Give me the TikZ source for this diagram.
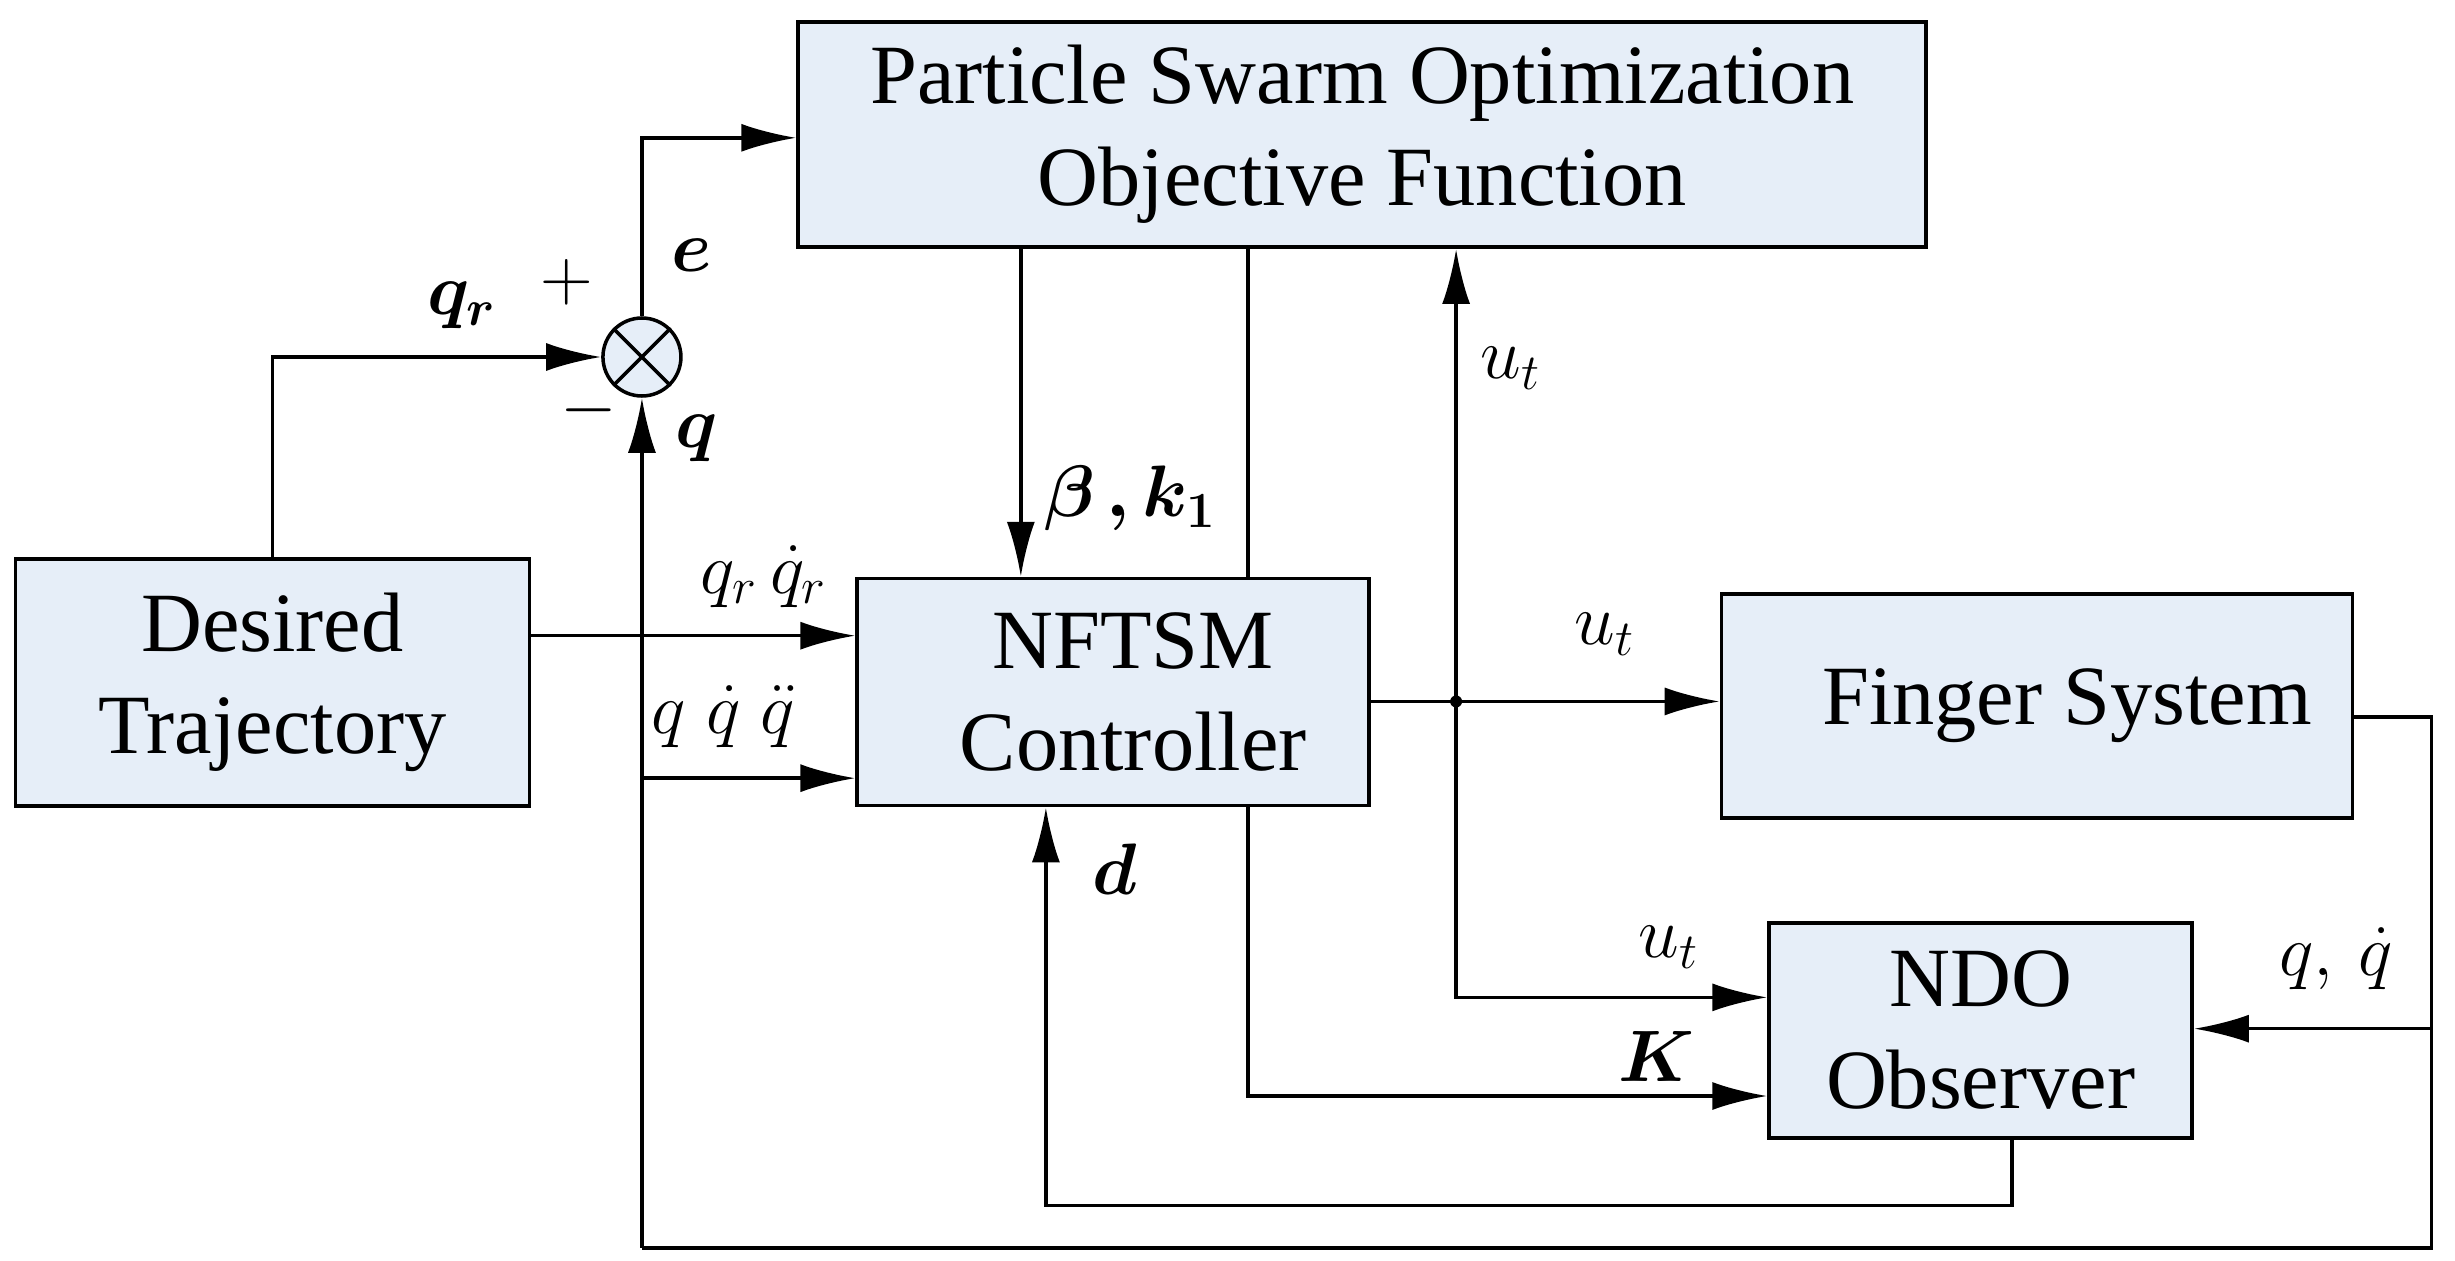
\documentclass[tikz,border=0pt]{standalone}
\usepackage{amsmath,bm}
\usepackage{fontspec}
\setmainfont{Liberation Serif}
\definecolor{box_c}{rgb}{0.902, 0.933, 0.973}
\usetikzlibrary{arrows.meta, calc, positioning}
\begin{document}
\begin{tikzpicture}[
			x=0.01566cm, y=-0.01566cm,
			line width=1pt,
			blk/.style = {draw, fill=box_c, align=center, font=\fontsize{24}{29}\selectfont},
			lbl/.style = {font=\fontsize{21}{24}\selectfont},
			sig/.style = {-{Latex[length=0.55cm,width=0.28cm]}},
			]
			\useasboundingbox (0,0) rectangle (1568,805);
			% blocks
			\node[blk, minimum width=11.28cm, minimum height=2.25cm] (pso) at (870,86) {Particle Swarm Optimization\\Objective Function};
			\node[blk, minimum width=5.14cm, minimum height=2.47cm] (des) at (174,436) {Desired\\Trajectory};
			\node[blk, minimum width=5.12cm, minimum height=2.27cm] (ctl) at (711,442) {\hspace{0.4cm}NFTSM\\\hspace{0.4cm}Controller};
			\node[blk, minimum width=6.31cm, minimum height=2.24cm] (fin) at (1301,451) {\hspace{0.6cm}Finger System};
			\node[blk, minimum width=4.23cm, minimum height=2.15cm] (ndo) at (1265,658) {NDO\\Observer};
			% summing junction
			\node[draw, circle, fill=box_c, minimum size=0.78cm] (sum) at (410,228) {};
			\draw (sum.north west) -- (sum.south east) (sum.north east) -- (sum.south west);
			% helper points
			\coordinate (jn) at (930,448);
			\coordinate (fb) at (410,797);
			\coordinate (rt) at (1553,797);
			\coordinate (tap) at (1553,657);
			\fill (jn) circle (0.06cm);
			% edges
			\draw[sig] (des.north) |- (sum.west);
			\draw[sig] (sum.north) |- (pso.west |- 0,88);
			\draw[sig] (fb) -- (sum.south);
			\draw[sig] (pso.south -| 652,0) -- (ctl.north -| 652,0);
			\draw (pso.south -| 797,0) -- (ctl.north -| 797,0);
			\draw[sig] (des.east |- 0,406) -- (ctl.west |- 0,406);
			\draw[sig] (410,497) -- (ctl.west |- 0,497);
			\draw[sig] (ctl.east |- jn) -- (fin.west |- jn);
			\draw[sig] (jn) -- (pso.south -| jn);
			\draw[sig] (jn) |- (ndo.west |- 0,637);
			\draw[sig] (ctl.south -| 797,0) |- (ndo.west |- 0,700);
			\draw[sig] (ndo.south -| 1285,0) |- (668,770) -- (ctl.south -| 668,0);
			\draw (fin.east |- 0,458) -| (rt) -- (fb);
			\draw[sig] (tap) -- (ndo.east |- tap);
			% labels
			\node[lbl] (lqr) at (295,195) {$\bm{q_r}$};
			\node[lbl] (lplus) at (362,180) {$+$};
			\node[lbl] (lminus) at (376,262) {$-$};
			\node[lbl] (le) at (442,163) {$\bm{e}$};
			\node[lbl] (lq) at (445,280) {$\bm{q}$};
			\node[lbl] (lbk) at (722,318) {$\bm{\beta}\,\bm{,k_1}$};
			\node[lbl] (lqrd) at (488,368) {$q_r\,\dot q_r$};
			\node[lbl] (lqqd) at (462,458) {$q\;\dot q\;\ddot q$};
			\node[lbl] (lu1) at (1025,405) {$u_t$};
			\node[lbl] (lu2) at (965,235) {$u_t$};
			\node[lbl] (lu3) at (1066,605) {$u_t$};
			\node[lbl] (lK) at (1058,675) {$\bm{K}$};
			\node[lbl] (ld) at (712,555) {$\bm{d}$};
			\node[lbl] (lqd) at (1492,612) {$q,\,\dot q$};
		\end{tikzpicture}
\end{document}
